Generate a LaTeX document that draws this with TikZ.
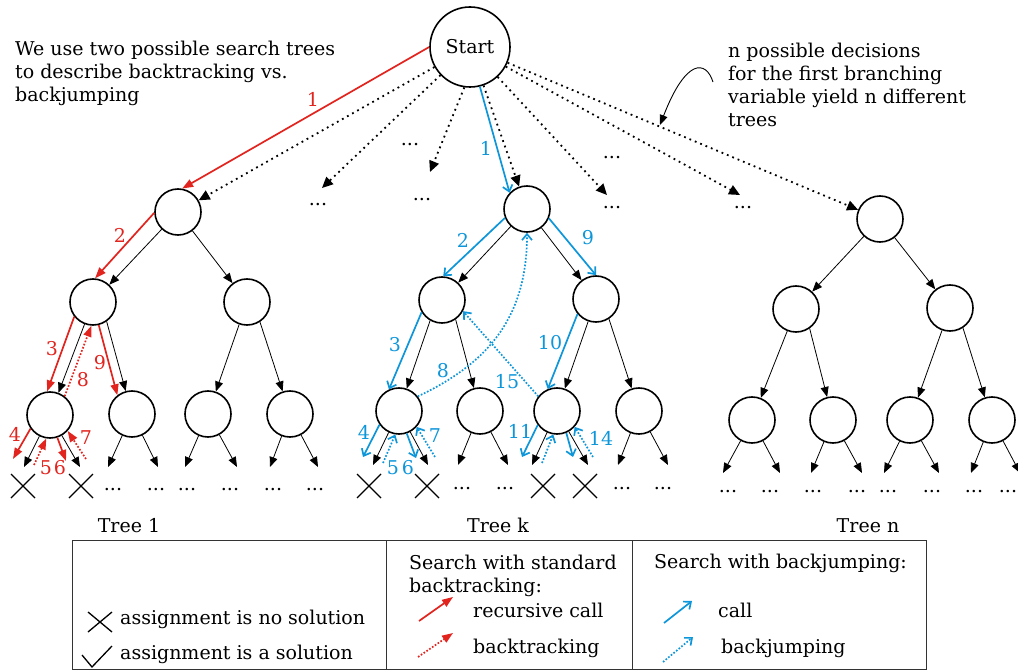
\documentclass[tikz,border=0pt]{standalone}
\usepackage{fontspec}
\setmainfont{DejaVu Serif}
\usetikzlibrary{arrows.meta, positioning, calc}
\definecolor{Call}{RGB}{226,36,30}
\definecolor{Jump}{RGB}{14,150,218}

\begin{document}
\begin{tikzpicture}[x=1pt, y=-1pt,
    every node/.style={font=\fontsize{19}{23}\selectfont},
    vertex/.style={circle, draw, line width=1.6pt, minimum size=46pt, inner sep=0pt},
    edge/.style={-{Triangle[length=10pt,width=8pt]}, line width=0.8pt},
    branch/.style={-{Triangle[length=11pt,width=10pt]}, line width=1.8pt, dash pattern=on 1.8pt off 4pt},
    redcall/.style={-{Triangle[length=11pt,width=8pt]}, draw=Call, line width=1.7pt},
    redback/.style={redcall, dash pattern=on 1.7pt off 1.7pt},
    bluecall/.style={-{Straight Barb[length=6pt,width=10pt]}, draw=Jump, line width=1.7pt},
    blueback/.style={bluecall, dash pattern=on 1.7pt off 1.7pt},
    redno/.style={text=Call, inner sep=0pt},
    blueno/.style={text=Jump, inner sep=0pt},
    cross/.style={line width=1.3pt},
    dots/.style={inner sep=0pt},
    note/.style={inner sep=0pt, align=left}
]
\useasboundingbox (0,0) rectangle (1018,671);

% Start and the three trees
\node[vertex, minimum size=80pt] (s) at (470,47) {Start};

\node[vertex] (p1) at (178,212) {};
\node[vertex] (p1l) at (93,302) {};
\node[vertex] (p1r) at (247,302) {};
\node[vertex] (p1ll) at (50,415) {};
\node[vertex] (p1lr) at (132,414) {};
\node[vertex] (p1rl) at (208,414) {};
\node[vertex] (p1rr) at (290,414) {};

\node[vertex] (pk) at (527,209) {};
\node[vertex] (pkl) at (442,300) {};
\node[vertex] (pkr) at (596,299) {};
\node[vertex] (pkll) at (399,411) {};
\node[vertex] (pklr) at (480,411) {};
\node[vertex] (pkrl) at (557,411) {};
\node[vertex] (pkrr) at (639,411) {};

\node[vertex] (pn) at (880,219) {};
\node[vertex] (pnl) at (796,309) {};
\node[vertex] (pnr) at (950,308) {};
\node[vertex] (pnll) at (752,420) {};
\node[vertex] (pnlr) at (833,420) {};
\node[vertex] (pnrl) at (910,420) {};
\node[vertex] (pnrr) at (992,420) {};

% leaf ends
\coordinate (l1a) at (24,467);
\coordinate (l1b) at (80,467);
\coordinate (l1c) at (108,467);
\coordinate (l1d) at (158,467);
\coordinate (l1e) at (185,467);
\coordinate (l1f) at (237,467);
\coordinate (l1g) at (270,467);
\coordinate (l1h) at (318,467);

\coordinate (lka) at (373,465);
\coordinate (lkb) at (428,465);
\coordinate (lkc) at (458,465);
\coordinate (lkd) at (508,465);
\coordinate (lke) at (532,465);
\coordinate (lkf) at (588,465);
\coordinate (lkg) at (618,465);
\coordinate (lkh) at (668,465);

\coordinate (lna) at (723,473);
\coordinate (lnb) at (780,473);
\coordinate (lnc) at (811,473);
\coordinate (lnd) at (862,473);
\coordinate (lne) at (884,473);
\coordinate (lnf) at (939,473);
\coordinate (lng) at (971,473);
\coordinate (lnh) at (1020,473);

% first branching: n decisions
\coordinate (b1) at (322,188);
\coordinate (b2) at (430,172);
\coordinate (b3) at (607,195);
\coordinate (b4) at (740,195);
\draw[branch] (s) -- (p1);
\draw[branch] (s) -- (b1);
\draw[branch] (s.262) -- (b2);
\draw[branch] (s) -- (pk);
\draw[branch] (s) -- (b3);
\draw[branch] (s) -- (b4);
\draw[branch] (s) -- (pn);

\node[dots] (d1) at (318,205) {...};
\node[dots] (d2) at (410,145) {...};
\node[dots] (d3) at (422,200) {...};
\node[dots] (d4) at (612,158) {...};
\node[dots] (d5) at (612,208) {...};
\node[dots] (d6) at (743,208) {...};

% tree edges
\draw[edge] (p1) -- (p1l);
\draw[edge] (p1) -- (p1r);
\draw[edge] (p1l) -- (p1ll);
\draw[edge] (p1l.305) -- (p1lr);
\draw[edge] (p1r) -- (p1rl);
\draw[edge] (p1r.303) -- (p1rr);
\draw[edge] (p1ll) -- (l1a);
\draw[edge] (p1ll) -- (l1b);
\draw[edge] (p1lr) -- (l1c);
\draw[edge] (p1lr) -- (l1d);
\draw[edge] (p1rl) -- (l1e);
\draw[edge] (p1rl) -- (l1f);
\draw[edge] (p1rr) -- (l1g);
\draw[edge] (p1rr) -- (l1h);

\draw[edge] (pk) -- (pkl);
\draw[edge] (pk) -- (pkr);
\draw[edge] (pkl.240) -- (pkll);
\draw[edge] (pkl.305) -- (pklr);
\draw[edge] (pkr) -- (pkrl);
\draw[edge] (pkr.303) -- (pkrr);
\draw[edge] (pkll) -- (lka);
\draw[edge] (pkll) -- (lkb);
\draw[edge] (pklr) -- (lkc);
\draw[edge] (pklr) -- (lkd);
\draw[edge] (pkrl) -- (lke);
\draw[edge] (pkrl) -- (lkf);
\draw[edge] (pkrr) -- (lkg);
\draw[edge] (pkrr) -- (lkh);

\draw[edge] (pn) -- (pnl);
\draw[edge] (pn) -- (pnr);
\draw[edge] (pnl) -- (pnll);
\draw[edge] (pnl.305) -- (pnlr);
\draw[edge] (pnr) -- (pnrl);
\draw[edge] (pnr.303) -- (pnrr);
\draw[edge] (pnll) -- (lna);
\draw[edge] (pnll) -- (lnb);
\draw[edge] (pnlr) -- (lnc);
\draw[edge] (pnlr) -- (lnd);
\draw[edge] (pnrl) -- (lne);
\draw[edge] (pnrl) -- (lnf);
\draw[edge] (pnrr) -- (lng);
\draw[edge] (pnrr) -- (lnh);

% standard backtracking in tree 1
\draw[redcall] (s.180) -- (p1.80);
\draw[redcall] (p1.182) -- (p1l.85);
\draw[redcall] (p1l.218) -- (p1ll.97);
\draw[redcall] (p1ll.215) -- ([shift={(-11,-8)}]l1a);
\draw[redback] ([shift={(10,-2)}]l1a) -- (p1ll.261);
\draw[redcall] (p1ll.288) -- ([shift={(-14,-6)}]l1b);
\draw[redback] ([shift={(6,-8)}]l1b) -- (p1ll.318);
\draw[redback] (p1ll.52) -- (p1l.266);
\draw[redcall] (p1l.284) -- (p1lr.128);

\node[redno] at (313,99) {1};
\node[redno] at (120,235) {2};
\node[redno] at (52,349) {3};
\node[redno] at (15,434) {4};
\node[redno] at (46,468) {5};
\node[redno] at (60,468) {6};
\node[redno] at (86,438) {7};
\node[redno] at (83,380) {8};
\node[redno] at (100,363) {9};

% backjumping in tree k
\draw[bluecall] (s.284) -- (pk.137);
\draw[bluecall] (pk.202) -- (pkl.87);
\draw[bluecall] (pkl.211) -- (pkll.115);
\draw[bluecall] (pkll.215) -- ([shift={(-10,-8)}]lka);
\draw[blueback] ([shift={(10,-2)}]lka) -- (pkll.261);
\draw[bluecall] (pkll.289) -- ([shift={(-12,-7)}]lkb);
\draw[blueback] ([shift={(7,-8)}]lkb) -- (pkll.318);
\draw[blueback] (pkll.38) .. controls +(75,-35) and +(0,80) .. (pk.270);
\draw[bluecall] (pk.337) -- (pkr.90);
\draw[bluecall] (pkr.219) -- (pkrl.113);
\draw[bluecall] (pkrl.216) -- ([shift={(-10,-8)}]lke);
\draw[blueback] ([shift={(10,-2)}]lke) -- (pkrl.261);
\draw[bluecall] (pkrl.293) -- ([shift={(-15,-8)}]lkf);
\draw[blueback] ([shift={(5,-8)}]lkf) -- (pkrl.318);
\draw[blueback] (pkrl.142) -- (pkl.332);

\node[blueno] at (486,148) {1};
\node[blueno] at (463,240) {2};
\node[blueno] at (395,345) {3};
\node[blueno] at (364,432) {4};
\node[blueno] at (393,468) {5};
\node[blueno] at (408,468) {6};
\node[blueno] at (435,436) {7};
\node[blueno] at (443,371) {8};
\node[blueno] at (588,238) {9};
\node[blueno] at (550,343) {10};
\node[blueno] at (520,431) {11};
\node[blueno] at (601,438) {14};
\node[blueno] at (507,382) {15};

% failed assignments
\draw[cross] (11,474) -- (35,498) (11,498) -- (35,474);
\draw[cross] (69,474) -- (93,498) (69,498) -- (93,474);
\draw[cross] (357,474) -- (381,498) (357,498) -- (381,474);
\draw[cross] (415,474) -- (439,498) (415,498) -- (439,474);
\draw[cross] (531,474) -- (555,498) (531,498) -- (555,474);
\draw[cross] (573,474) -- (597,498) (573,498) -- (597,474);

% open leaves
\node[dots] (e1) at (113,490) {...};
\node[dots] (e2) at (156,490) {...};
\node[dots] (e3) at (187,490) {...};
\node[dots] (e4) at (230,490) {...};
\node[dots] (e5) at (273,490) {...};
\node[dots] (e6) at (315,490) {...};
\node[dots] (e7) at (462,489) {...};
\node[dots] (e8) at (505,489) {...};
\node[dots] (e9) at (622,489) {...};
\node[dots] (e10) at (663,489) {...};
\node[dots] (e11) at (728,492) {...};
\node[dots] (e12) at (770,492) {...};
\node[dots] (e13) at (813,492) {...};
\node[dots] (e14) at (857,492) {...};
\node[dots] (e15) at (888,492) {...};
\node[dots] (e16) at (932,492) {...};
\node[dots] (e17) at (974,492) {...};
\node[dots] (e18) at (1008,492) {...};

% texts
\node[note, anchor=north west] (intro) at (15,40.5) {We use two possible search trees\\to describe backtracking vs.\\backjumping};
\node[note, anchor=north west] (remark) at (728,42.5) {n possible decisions\\for the first branching\\variable yield n different\\trees};
\coordinate (ra) at (713,82);
\coordinate (rb) at (660,125);
\draw[edge, line width=0.9pt] (ra) .. controls (706,60) and (686,58) .. (rb);

\node[anchor=base] (t1) at (129,532) {Tree 1};
\node[anchor=base] (tk) at (498,532) {Tree k};
\node[anchor=base] (tn) at (868,532) {Tree n};

% legend
\draw[line width=0.9pt, draw=black!80] (72,540) rectangle (926,669);
\draw[line width=0.9pt, draw=black!80] (386,540) -- (386,669);
\draw[line width=0.9pt, draw=black!80] (632,540) -- (632,669);

\draw[cross] (88,612) -- (112,632) (88,632) -- (112,612);
\draw[cross] (82,655) -- (92,667) -- (112,646);
\node[anchor=base west, inner sep=0pt] (nosol) at (120,624) {assignment is no solution};
\node[anchor=base west, inner sep=0pt] (sol) at (120,659) {assignment is a solution};

\node[note, anchor=north west] (std) at (409,554.5) {Search with standard\\backtracking:};
\coordinate (ka) at (419,621);
\coordinate (kb) at (453,597);
\coordinate (kc) at (418,657);
\coordinate (kd) at (453,633);
\draw[redcall] (ka) -- (kb);
\draw[redback] (kc) -- (kd);
\node[anchor=base west, inner sep=0pt] (rec) at (473,617) {recursive call};
\node[anchor=base west, inner sep=0pt] (bt) at (473,653) {backtracking};

\node[anchor=base west, inner sep=0pt] (bjhead) at (654,568) {Search with backjumping:};
\coordinate (ke) at (664,623);
\coordinate (kf) at (692,601);
\coordinate (kg) at (663,662);
\coordinate (kh) at (693,637);
\draw[bluecall] (ke) -- (kf);
\draw[blueback] (kg) -- (kh);
\node[anchor=base west, inner sep=0pt] (cl) at (718,617) {call};
\node[anchor=base west, inner sep=0pt] (bj) at (721,653) {backjumping};
\end{tikzpicture}
\end{document}
